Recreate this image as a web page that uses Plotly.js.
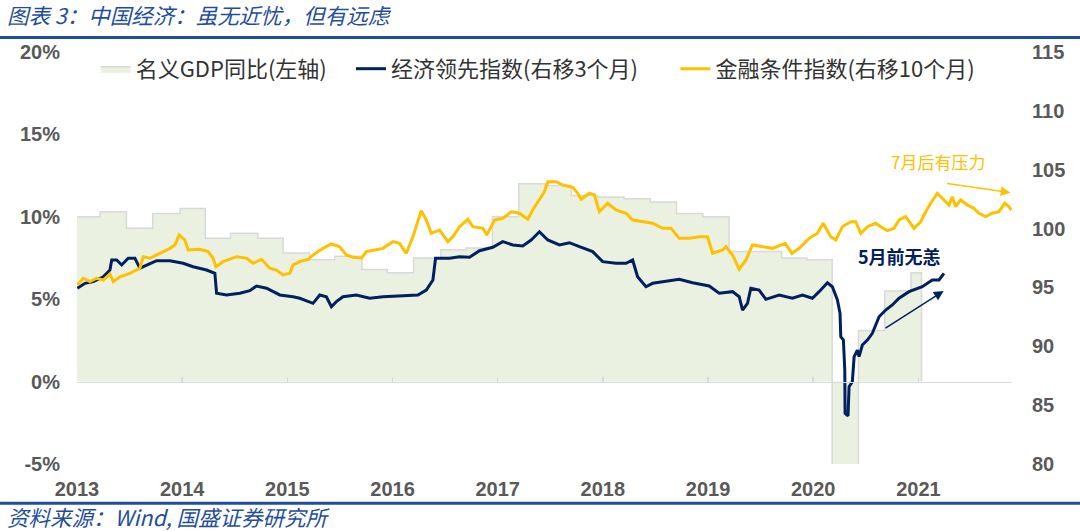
<!DOCTYPE html>
<html>
<head>
<meta charset="utf-8">
<script src="https://cdn.plot.ly/plotly-3.0.1.min.js"></script>
<style>
  html, body { margin: 0; padding: 0; background: #ffffff; }
  #chart { width: 1080px; height: 531px; }
</style>
</head>
<body>
<div id="chart"></div>
<script>
// ---------- DATA ----------
const yearTicks = [2013, 2014, 2015, 2016, 2017, 2018, 2019, 2020, 2021];
const yearLabels = ['2013', '2014', '2015', '2016', '2017', '2018', '2019', '2020', '2021'];
const leftTicks = [-5, 0, 5, 10, 15, 20];
const leftLabels = ['-5%', '0%', '5%', '10%', '15%', '20%'];
const rightTicks = [80, 85, 90, 95, 100, 105, 110, 115];
const rightLabels = ['80', '85', '90', '95', '100', '105', '110', '115'];

const seriesNames = ['名义GDP同比(左轴)', '经济领先指数(右移3个月)', '金融条件指数(右移10个月)'];

// Nominal GDP y/y (%), quarterly steps (start of each step, decimal year)
const gdpX = [2013.00, 2013.22, 2013.47, 2013.72, 2013.98, 2014.22, 2014.46, 2014.72, 2014.96,
              2015.21, 2015.45, 2015.71, 2015.95, 2016.20, 2016.46, 2016.70, 2016.95,
              2017.20, 2017.45, 2017.70, 2017.95, 2018.20, 2018.45, 2018.70, 2018.95,
              2019.20, 2019.45, 2019.70, 2019.94, 2020.18, 2020.43, 2020.68, 2020.93, 2021.03];
const gdpY = [10.0, 10.3, 9.3, 10.2, 10.5, 8.7, 9.0, 8.7, 7.8,
              7.4, 7.6, 6.8, 6.6, 7.5, 8.0, 8.1, 10.0,
              12.0, 11.9, 11.3, 11.2, 11.1, 10.9, 10.2, 10.0,
              7.9, 7.9, 7.5, 7.4, -5.3, 3.1, 5.5, 6.6, 6.6];

// Leading economic index (shifted 3 months), right axis
const leadX = [2013.003, 2013.076, 2013.155, 2013.250, 2013.313, 2013.330, 2013.377, 2013.425, 2013.487, 2013.551,
               2013.598, 2013.662, 2013.757, 2013.883, 2014.009, 2014.104, 2014.232, 2014.311, 2014.327, 2014.422,
               2014.548, 2014.643, 2014.707, 2014.802, 2014.928, 2015.054, 2015.118, 2015.244, 2015.308, 2015.371,
               2015.419, 2015.466, 2015.529, 2015.656, 2015.783, 2015.909, 2016.067, 2016.241, 2016.321, 2016.384,
               2016.409, 2016.542, 2016.637, 2016.732, 2016.827, 2016.953, 2017.048, 2017.143, 2017.238, 2017.318,
               2017.397, 2017.428, 2017.476, 2017.587, 2017.682, 2017.777, 2017.903, 2017.998, 2018.125, 2018.220,
               2018.283, 2018.330, 2018.410, 2018.473, 2018.600, 2018.726, 2018.853, 2019.011, 2019.106, 2019.233,
               2019.296, 2019.328, 2019.375, 2019.407, 2019.486, 2019.550, 2019.676, 2019.802, 2019.897, 2019.992,
               2020.056, 2020.135, 2020.182, 2020.230, 2020.255, 2020.262, 2020.287, 2020.300, 2020.303, 2020.331,
               2020.341, 2020.372, 2020.389, 2020.420, 2020.436, 2020.467, 2020.515, 2020.562, 2020.626, 2020.689,
               2020.752, 2020.816, 2020.911, 2021.037, 2021.132, 2021.196, 2021.243];
const leadV = [94.93, 95.35, 95.49, 95.91, 96.48, 97.33, 97.33, 96.91, 97.48, 97.48,
               96.63, 96.91, 97.27, 97.27, 97.05, 96.76, 96.48, 96.20, 94.50, 94.36,
               94.50, 94.72, 95.12, 94.93, 94.36, 94.21, 94.08, 93.65, 94.36, 94.21,
               93.36, 93.79, 94.21, 94.36, 94.08, 94.21, 94.27, 94.36, 94.78, 95.63,
               97.48, 97.48, 97.61, 97.56, 98.12, 98.41, 98.89, 98.61, 98.52, 99.03,
               99.73, 99.45, 99.03, 98.61, 98.80, 98.46, 98.04, 97.19, 97.05, 97.05,
               97.33, 95.91, 95.06, 95.35, 95.49, 95.69, 95.40, 95.12, 94.50, 94.64,
               94.21, 93.08, 93.65, 94.93, 94.78, 93.99, 94.36, 94.08, 94.36, 94.08,
               94.64, 95.40, 95.06, 93.93, 92.80, 90.81, 90.53, 87.99, 84.31, 84.08,
               86.57, 86.99, 89.12, 89.68, 89.12, 90.11, 90.53, 91.10, 92.51, 93.08,
               93.51, 94.08, 94.64, 95.06, 95.63, 95.63, 96.20];

// Financial conditions index (shifted 10 months), right axis
const finX = [2013.003, 2013.060, 2013.123, 2013.187, 2013.250, 2013.313, 2013.345, 2013.408, 2013.503, 2013.598,
              2013.630, 2013.693, 2013.788, 2013.883, 2013.931, 2013.972, 2014.026, 2014.057, 2014.168, 2014.247,
              2014.294, 2014.320, 2014.389, 2014.517, 2014.612, 2014.674, 2014.754, 2014.833, 2014.896, 2014.959,
              2015.023, 2015.054, 2015.118, 2015.197, 2015.244, 2015.339, 2015.419, 2015.498, 2015.561, 2015.624,
              2015.704, 2015.751, 2015.830, 2015.909, 2016.004, 2016.067, 2016.131, 2016.194, 2016.273, 2016.321,
              2016.368, 2016.447, 2016.526, 2016.574, 2016.637, 2016.716, 2016.764, 2016.859, 2016.897, 2016.970,
              2017.048, 2017.128, 2017.207, 2017.286, 2017.333, 2017.397, 2017.444, 2017.476, 2017.556, 2017.618,
              2017.713, 2017.761, 2017.793, 2017.872, 2017.919, 2017.967, 2018.046, 2018.125, 2018.220, 2018.283,
              2018.378, 2018.473, 2018.568, 2018.648, 2018.726, 2018.822, 2018.917, 2018.995, 2019.043, 2019.138,
              2019.170, 2019.233, 2019.296, 2019.360, 2019.423, 2019.518, 2019.613, 2019.733, 2019.797, 2019.866,
              2019.961, 2020.040, 2020.094, 2020.167, 2020.215, 2020.277, 2020.357, 2020.404, 2020.452, 2020.515,
              2020.594, 2020.642, 2020.705, 2020.768, 2020.816, 2020.879, 2020.958, 2021.022, 2021.069, 2021.117,
              2021.180, 2021.243, 2021.291, 2021.322, 2021.354, 2021.402, 2021.465, 2021.528, 2021.576, 2021.639,
              2021.702, 2021.765, 2021.822, 2021.860, 2021.886];
const finV = [95.21, 95.78, 95.49, 95.78, 95.63, 96.14, 95.49, 95.91, 96.20, 96.63,
              97.61, 97.48, 97.90, 98.32, 98.61, 99.45, 99.03, 98.18, 98.24, 98.04,
              97.48, 96.76, 97.19, 97.61, 97.48, 97.05, 97.39, 96.63, 96.48, 96.06,
              96.20, 96.91, 97.19, 97.39, 97.76, 98.32, 98.69, 98.46, 97.76, 97.56,
              97.48, 98.04, 98.18, 98.32, 98.89, 98.75, 97.90, 99.31, 101.52, 100.73,
              99.60, 99.88, 98.89, 99.31, 100.16, 100.79, 100.16, 100.02, 99.45, 100.73,
              100.87, 101.43, 101.30, 100.79, 101.58, 102.43, 103.13, 103.98, 103.98, 103.70,
              103.51, 103.00, 102.49, 103.00, 102.85, 101.43, 102.15, 101.58, 101.30, 100.73,
              100.58, 100.45, 100.02, 100.02, 99.17, 99.17, 99.31, 99.31, 97.90, 98.18,
              98.46, 97.76, 96.54, 97.33, 98.61, 98.46, 98.32, 98.75, 97.90, 98.32,
              99.17, 99.60, 100.45, 99.31, 99.03, 100.16, 100.58, 100.58, 99.60, 100.16,
              100.45, 100.16, 99.82, 100.02, 100.73, 101.01, 100.02, 100.58, 101.43, 102.15,
              103.00, 102.43, 102.00, 102.71, 101.86, 102.43, 102.00, 101.72, 101.30, 101.01,
              101.30, 101.43, 102.15, 101.86, 101.58];

// ---------- STYLE ----------
const NAVY = '#002060';
const GOLD = '#FFC000';
const BLUE_RULE = '#1F4E9C';
const AXIS_GREY = '#D9D9D9';
const TICK_FONT = { family: 'Liberation Sans, Arial, sans-serif', size: 20, color: '#595959', weight: 700 };
const CJK = '"Noto Sans CJK SC", "Noto Sans", sans-serif';
const XRANGE = [2013, 2021.89];

// GDP area closes down to zero at its last step
const gdpXs = gdpX.concat([gdpX[gdpX.length - 1]]);
const gdpYs = gdpY.concat([0]);

const traces = [
  {
    type: 'scatter', mode: 'lines', name: seriesNames[0],
    x: gdpXs, y: gdpYs, xaxis: 'x', yaxis: 'y',
    line: { shape: 'hv', color: AXIS_GREY, width: 1.5 },
    fill: 'tozeroy', fillcolor: '#EBF1E1',
    legend: 'legend', hoverinfo: 'skip'
  },
  {
    type: 'scatter', mode: 'lines', name: seriesNames[1],
    x: leadX, y: leadV, xaxis: 'x2', yaxis: 'y2',
    line: { color: NAVY, width: 3 },
    legend: 'legend2'
  },
  {
    type: 'scatter', mode: 'lines', name: seriesNames[2],
    x: finX, y: finV, xaxis: 'x2', yaxis: 'y2',
    line: { color: GOLD, width: 3 },
    legend: 'legend3'
  }
];

const legendBase = {
  orientation: 'h', yanchor: 'middle', xanchor: 'left', y: 0.959,
  bgcolor: 'rgba(0,0,0,0)', borderwidth: 0,
  font: { family: CJK, size: 22, color: '#333333' }
};

const layout = {
  width: 1080, height: 531,
  margin: { l: 77, r: 68, t: 52, b: 67, pad: 0 },
  paper_bgcolor: '#ffffff', plot_bgcolor: 'rgba(0,0,0,0)',
  showlegend: true,
  legend: Object.assign({}, legendBase, { x: 0.020 }),
  legend2: Object.assign({}, legendBase, { x: 0.293 }),
  legend3: Object.assign({}, legendBase, { x: 0.640 }),
  xaxis: {
    range: XRANGE, tickmode: 'array', tickvals: yearTicks, ticktext: yearLabels,
    ticks: 'outside', ticklen: 7, tickcolor: 'rgba(0,0,0,0)',
    showgrid: false, zeroline: false, showline: false,
    tickfont: TICK_FONT, fixedrange: true
  },
  xaxis2: {
    overlaying: 'x', anchor: 'free', position: 0.2,
    range: XRANGE, tickmode: 'array', tickvals: yearTicks,
    ticks: 'inside', ticklen: 5, tickwidth: 1.5, tickcolor: AXIS_GREY,
    showticklabels: false, showline: true, linecolor: AXIS_GREY, linewidth: 1.5,
    showgrid: false, zeroline: false, fixedrange: true
  },
  yaxis: {
    range: [-5, 20], tickmode: 'array', tickvals: leftTicks, ticktext: leftLabels,
    ticks: 'outside', ticklen: 12, tickcolor: 'rgba(0,0,0,0)',
    showgrid: false, zeroline: false, showline: false,
    tickfont: TICK_FONT, fixedrange: true
  },
  yaxis2: {
    overlaying: 'y', side: 'right', anchor: 'x2',
    range: [80, 115], tickmode: 'array', tickvals: rightTicks, ticktext: rightLabels,
    ticks: 'outside', ticklen: 15, tickcolor: 'rgba(0,0,0,0)',
    showgrid: false, zeroline: false, showline: false,
    tickfont: TICK_FONT, fixedrange: true
  },
  shapes: [
    { type: 'line', xref: 'paper', yref: 'paper', x0: -0.083, x1: 1.073, y0: 1.035, y1: 1.035,
      line: { color: BLUE_RULE, width: 3 } },
    { type: 'line', xref: 'paper', yref: 'paper', x0: -0.083, x1: 1.073, y0: -0.095, y1: -0.095,
      line: { color: BLUE_RULE, width: 3 } }
  ],
  annotations: [
    { xref: 'paper', yref: 'paper', x: -0.077, y: 1.090, xanchor: 'left', yanchor: 'middle',
      showarrow: false, text: '<i>图表 3：中国经济：虽无近忧，但有远虑</i>',
      font: { family: CJK, size: 21.5, color: BLUE_RULE } },
    { xref: 'paper', yref: 'paper', x: -0.077, y: -0.127, xanchor: 'left', yanchor: 'middle',
      showarrow: false, text: '<i>资料来源：Wind, 国盛证券研究所</i>',
      font: { family: CJK, size: 21.5, color: BLUE_RULE } },
    { xref: 'x', yref: 'y2', x: 2021.19, y: 105.66, xanchor: 'center', yanchor: 'middle',
      showarrow: false, text: '7月后有压力',
      font: { family: CJK, size: 17, color: GOLD } },
    { xref: 'x', yref: 'y2', x: 2021.876, y: 103.05, ax: 2021.259, ay: 103.85,
      axref: 'x', ayref: 'y2', showarrow: true, arrowhead: 2, arrowsize: 1.3,
      arrowwidth: 1.5, arrowcolor: GOLD, text: '' },
    { xref: 'x', yref: 'y2', x: 2020.82, y: 97.67, xanchor: 'center', yanchor: 'middle',
      showarrow: false, text: '<b>5月前无恙</b>',
      font: { family: CJK, size: 18, color: NAVY } },
    { xref: 'x', yref: 'y2', x: 2021.24, y: 94.70, ax: 2020.673, ay: 91.47,
      axref: 'x', ayref: 'y2', showarrow: true, arrowhead: 2, arrowsize: 1.3,
      arrowwidth: 1.5, arrowcolor: NAVY, text: '' }
  ]
};

Plotly.newPlot('chart', traces, layout, { displayModeBar: false, staticPlot: true });
</script>
</body>
</html>
